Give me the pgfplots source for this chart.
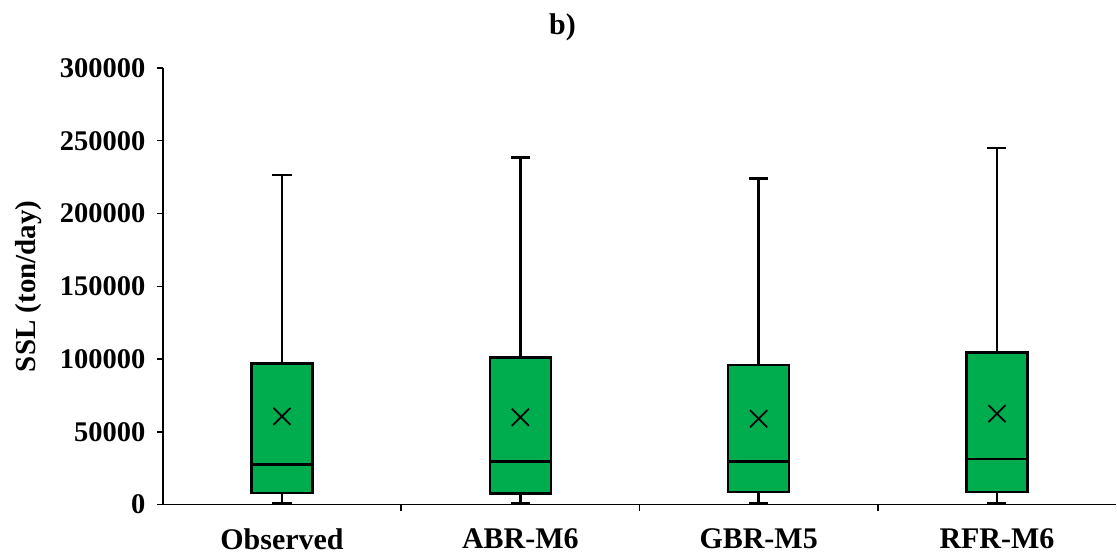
\documentclass[border=0pt]{standalone}
\usepackage{fontspec}
\setmainfont{Liberation Serif}
\usepackage{pgfplots}
\pgfplotsset{compat=1.18}
\usepgfplotslibrary{statistics}
\definecolor{boxgreen}{RGB}{0,173,78}
\begin{document}
\begin{tikzpicture}
\begin{axis}[
  scale only axis, width=954pt, height=437pt,
  xmin=-0.5, xmax=3.5, ymin=0, ymax=300000,
  axis x line*=bottom, axis y line*=left,
  axis line style={line width=1.8pt, -},
  clip=false,
  ytick={0,50000,100000,150000,200000,250000,300000},
  scaled y ticks=false,
  /pgf/number format/assume math mode=true,
  yticklabel style={font=\fontsize{28.5}{31}\selectfont\bfseries, /pgf/number format/fixed, /pgf/number format/1000 sep={}, xshift=-8pt},
  xtick={0.5,1.5,2.5}, xticklabels={},
  extra x ticks={0,1,2,3},
  extra x tick labels={Observed,ABR-M6,GBR-M5,RFR-M6},
  extra x tick style={major tick length=0pt, tick label style={font=\fontsize{30}{33}\selectfont\bfseries, yshift=-21pt}},
  tick style={line width=1.5pt, black},
  tick align=outside,
  major tick length=6pt,
  ylabel={SSL (ton/day)},
  ylabel style={font=\fontsize{29}{32}\selectfont\bfseries, yshift=11pt},
  title={b)},
  title style={font=\fontsize{30}{33}\selectfont\bfseries, yshift=18pt, xshift=-77pt},
  boxplot/draw direction=y,
]
\addplot[draw=black, fill=boxgreen, line width=2.4pt,
  boxplot prepared={draw position=0, lower whisker=800, lower quartile=8000, median=27500, upper quartile=97000, upper whisker=226500, box extend=0.255, whisker extend=0.08}] coordinates {};
\addplot[draw=black, fill=boxgreen, line width=2.4pt,
  boxplot prepared={draw position=1, lower whisker=800, lower quartile=7500, median=29500, upper quartile=101000, upper whisker=238500, box extend=0.255, whisker extend=0.08}] coordinates {};
\addplot[draw=black, fill=boxgreen, line width=2.4pt,
  boxplot prepared={draw position=2, lower whisker=800, lower quartile=8700, median=29700, upper quartile=96000, upper whisker=224000, box extend=0.255, whisker extend=0.08}] coordinates {};
\addplot[draw=black, fill=boxgreen, line width=2.4pt,
  boxplot prepared={draw position=3, lower whisker=800, lower quartile=8700, median=31200, upper quartile=104500, upper whisker=245000, box extend=0.255, whisker extend=0.08}] coordinates {};
\addplot[only marks, mark=x, mark size=12pt, black, mark options={line width=1.8pt}]
  coordinates {(0,60600) (1,60000) (2,59000) (3,62500)};
\end{axis}
\path ([xshift=-163pt,yshift=-54pt]current axis.south west) rectangle ([yshift=68pt]current axis.north east);
\end{tikzpicture}
\end{document}
